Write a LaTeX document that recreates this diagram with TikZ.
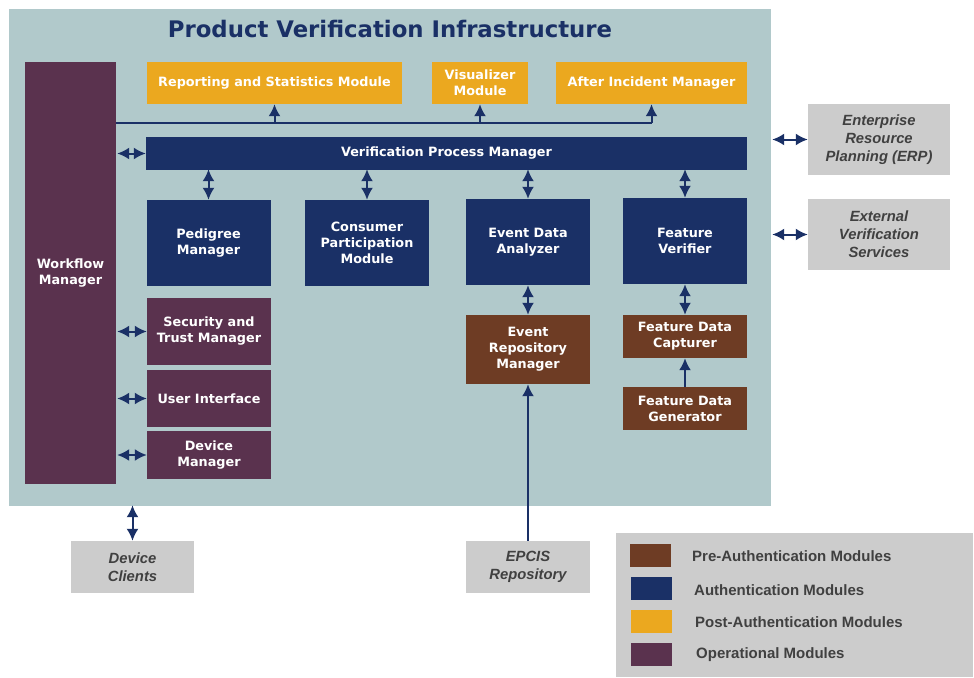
\documentclass[tikz,border=0pt]{standalone}
\usepackage{fontspec}
\setmainfont{Liberation Sans}
\newfontfamily\modfont{DejaVu Sans}
\usetikzlibrary{arrows.meta}
\definecolor{panelbg}{HTML}{B1C9CB}
\definecolor{navy}{HTML}{1A3066}
\definecolor{plum}{HTML}{5A324E}
\definecolor{amber}{HTML}{EBA81F}
\definecolor{rust}{HTML}{6E3C24}
\definecolor{extgray}{HTML}{CCCCCC}
\definecolor{exttext}{HTML}{404040}
\begin{document}
\begin{tikzpicture}[x=1pt,y=-1pt,
        mod/.style={inner sep=0pt, align=center, text=white,
            font=\modfont\bfseries\fontsize{12.8}{16}\selectfont},
        premod/.style={mod, fill=rust},
        authmod/.style={mod, fill=navy},
        postmod/.style={mod, fill=amber},
        opmod/.style={mod, fill=plum},
        extsys/.style={fill=extgray, inner sep=0pt, align=center, text=exttext,
            font=\bfseries\itshape\fontsize{14.8}{18}\selectfont},
        link/.style={navy, line width=2pt},
        dbl/.style={link, {Latex[length=12pt,width=12pt]}-{Latex[length=12pt,width=12pt]}},
        uni/.style={link, -{Latex[length=12pt,width=12pt]}}]
        
        \useasboundingbox (0,0) rectangle (974,677);
        \node[fill=panelbg, minimum width=762, minimum height=497, inner sep=0pt] (panel) at (390,257.5) {};
        \node[text=navy, font=\modfont\bfseries\fontsize{22.8}{26}\selectfont] (title) at (390,29) {Product Verification Infrastructure};
        
        % operational
        \node[opmod, minimum width=91, minimum height=422] (wf) at (70.5,273) {Workflow\\Manager};
        \node[opmod, minimum width=124, minimum height=67] (stm) at (209,331.5) {Security and\\Trust Manager};
        \node[opmod, minimum width=124, minimum height=57] (ui) at (209,398.5) {User Interface};
        \node[opmod, minimum width=124, minimum height=48] (dm) at (209,455) {Device\\Manager};
        
        % post-authentication
        \node[postmod, minimum width=255, minimum height=42] (rsm) at (274.5,83) {Reporting and Statistics Module};
        \node[postmod, minimum width=96, minimum height=42] (vis) at (480,83) {Visualizer\\Module};
        \node[postmod, minimum width=191, minimum height=42] (aim) at (651.5,83) {After Incident Manager};
        
        % authentication
        \node[authmod, minimum width=601, minimum height=33] (vpm) at (446.5,153.5) {Verification Process Manager};
        \node[authmod, minimum width=124, minimum height=86] (ped) at (208.5,243) {Pedigree\\Manager};
        \node[authmod, minimum width=124, minimum height=86] (cpm) at (367,243) {Consumer\\Participation\\Module};
        \node[authmod, minimum width=124, minimum height=86] (eda) at (528,242) {Event Data\\Analyzer};
        \node[authmod, minimum width=124, minimum height=86] (fv) at (685,241) {Feature\\Verifier};
        
        % pre-authentication
        \node[premod, minimum width=124, minimum height=69] (erm) at (528,349.5) {Event\\Repository\\Manager};
        \node[premod, minimum width=124, minimum height=43] (fdc) at (685,336.5) {Feature Data\\Capturer};
        \node[premod, minimum width=124, minimum height=43] (fdg) at (685,408.5) {Feature Data\\Generator};
        
        % outside systems
        \node[extsys, minimum width=142, minimum height=71] (erp) at (879,139.5) {Enterprise\\Resource\\Planning (ERP)};
        \node[extsys, minimum width=142, minimum height=71] (evs) at (879,234.5) {External\\Verification\\Services};
        \node[extsys, minimum width=123, minimum height=52] (dc) at (132.5,567) {Device\\Clients};
        \node[extsys, minimum width=124, minimum height=52] (epcis) at (528,567) {EPCIS\\Repository};
        
        % connectors
        \coordinate (bus) at (651.5,123);
        \draw[link] (wf.east |- bus) -- (bus);
        \draw[uni] (bus) -- (aim.south);
        \draw[uni] (rsm.south |- bus) -- (rsm.south);
        \draw[uni] (vis.south |- bus) -- (vis.south);
        \draw[dbl] ([xshift=1pt]wf.east |- vpm) -- (vpm.west);
        \foreach \m in {ped,cpm,eda,fv}
            \draw[dbl] ([yshift=1pt]\m.north |- vpm.south) -- (\m.north);
        \foreach \m in {stm,ui,dm}
            \draw[dbl] ([xshift=1pt]wf.east |- \m) -- (\m.west);
        \draw[dbl] (eda) -- (erm);
        \draw[dbl] (fv) -- (fdc);
        \draw[uni] (fdg) -- (fdc);
        \draw[uni] (epcis) -- (erm);
        \draw[dbl] ([xshift=1pt]panel.east |- erp) -- (erp.west);
        \draw[dbl] ([xshift=1pt]panel.east |- evs) -- (evs.west);
        \draw[dbl] ([yshift=1pt]dc.north |- panel.south) -- (dc.north);
        
        % legend
        \node[fill=extgray, minimum width=357, minimum height=144, inner sep=0pt] (lgd) at (794.5,605) {};
        \begin{scope}[every node/.style={inner sep=0pt}]
            \node[fill=rust, minimum width=41, minimum height=23] (kpre) at (650.5,555.5) {};
            \node[fill=navy, minimum width=41, minimum height=23] (kauth) at (651.5,588.5) {};
            \node[fill=amber, minimum width=41, minimum height=23] (kpost) at (651.5,621.5) {};
            \node[fill=plum, minimum width=41, minimum height=23] (kop) at (651.5,654.5) {};
            \node[anchor=west, text=exttext, font=\bfseries\fontsize{15}{17}\selectfont] (tpre) at (692,556) {Pre-Authentication Modules};
            \node[anchor=west, text=exttext, font=\bfseries\fontsize{15}{17}\selectfont] (tauth) at (694,590) {Authentication Modules};
            \node[anchor=west, text=exttext, font=\bfseries\fontsize{15}{17}\selectfont] (tpost) at (695,622) {Post-Authentication Modules};
            \node[anchor=west, text=exttext, font=\bfseries\fontsize{15}{17}\selectfont] (top) at (696,655) {Operational Modules};
        \end{scope}
    \end{tikzpicture}
\end{document}
